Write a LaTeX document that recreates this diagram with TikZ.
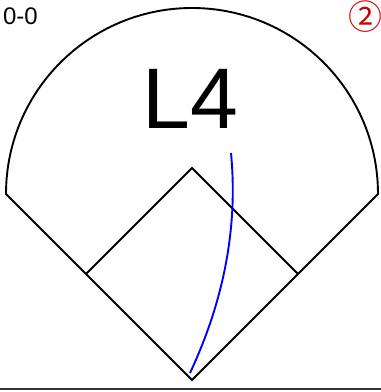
\documentclass[tikz,border=0pt]{standalone}
\usepackage{fontspec}
\setmainfont{Liberation Sans}
\newfontfamily\symfont{Noto Sans CJK SC}
\usepackage{xcolor}
\usepackage{tikz}
\usetikzlibrary{calc}
\definecolor{hitblue}{RGB}{0,0,255}
\definecolor{markred}{RGB}{204,0,0}

\begin{document}
\begin{tikzpicture}[
  x=1pt,y=1pt,
  field/.style={draw=black,line width=1.9pt,line join=miter},
  hit/.style={draw=hitblue,line width=1.9pt},
  ground/.style={draw=black!80,line width=1.8pt},
  score/.style={inner sep=0pt,font=\fontsize{24}{24}\selectfont},
  zone/.style={inner sep=0pt,font=\fontsize{86}{86}\selectfont},
  outsmark/.style={inner sep=0pt,text=markred,font=\symfont\fontsize{34}{34}\selectfont},
]
\useasboundingbox (0,0) rectangle (381,392);

% field points
\coordinate (home)   at (192,12);
\coordinate (first)  at (298,118);
\coordinate (second) at (192,224);
\coordinate (third)  at (86,118);
\coordinate (lfoul)  at (6,198);
\coordinate (rfoul)  at (378,198);
\coordinate (gl)     at (0,3);
\coordinate (gr)     at (381,3);

% outfield and infield
\draw[field] (home) -- (lfoul) arc[start angle=180,end angle=0,radius=186] -- cycle;
\draw[field] (third) -- (second) -- (first);

% ground line
\draw[ground] (gl) -- (gr);

% batted ball
\coordinate (ballstart) at (190,19);
\coordinate (ballend)   at (231,239);
\draw[hit] (ballstart) .. controls (224.3,92.3) and (238,165.7) .. (ballend);

% labels
\node[score]    (count) at (20.5,376) {0-0};
\node[zone]     (lbl)   at (190.5,293) {L4};
\node[outsmark] (num)   at (365,375) {②};
\end{tikzpicture}
\end{document}
